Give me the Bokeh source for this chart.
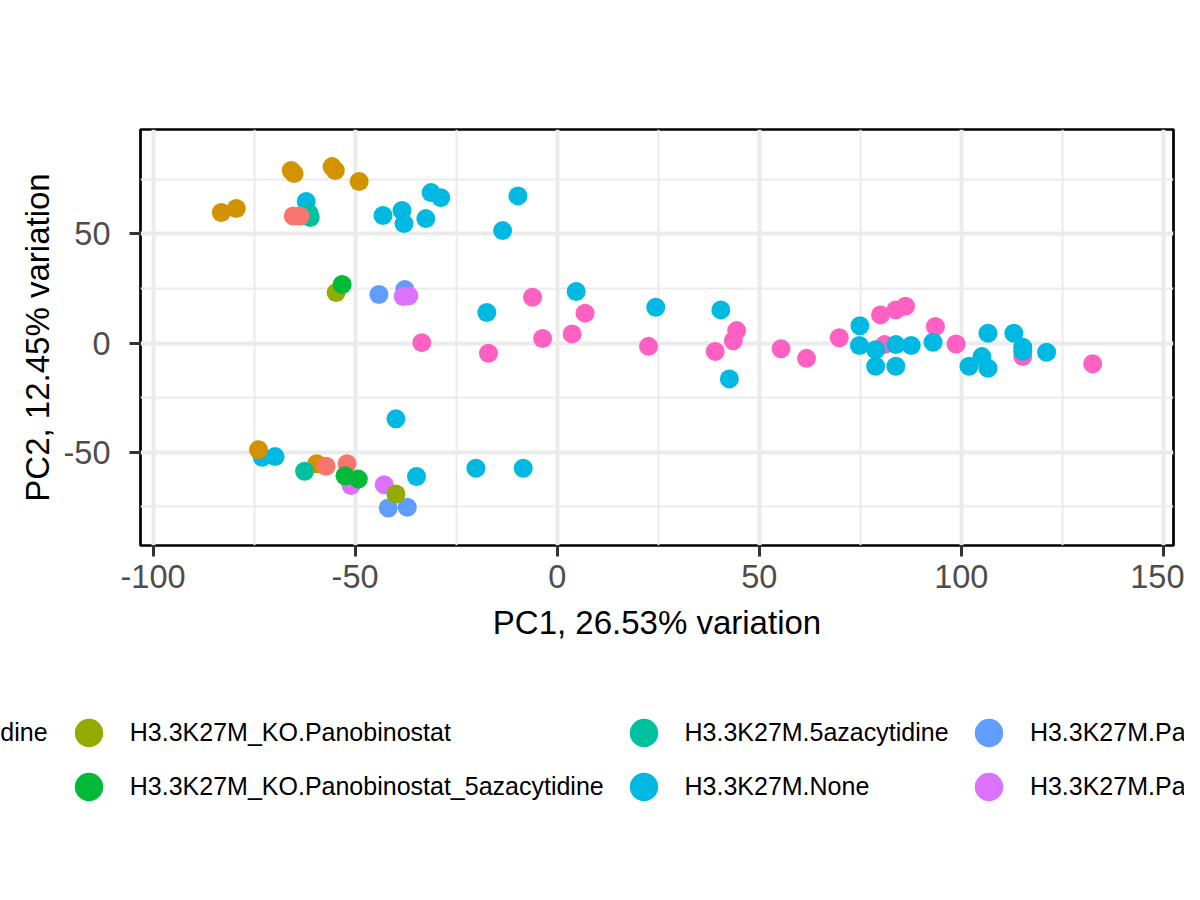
import numpy as np
from bokeh.plotting import figure
from bokeh.models import Range1d, Legend, LegendItem, FixedTicker, CustomJSTickFormatter
from bokeh.embed import file_html
from bokeh.resources import INLINE

# ---- data ----
groups = [
    "H3.3K27M_KO.5azacytidine",
    "H3.3K27M_KO.None",
    "H3.3K27M_KO.Panobinostat",
    "H3.3K27M_KO.Panobinostat_5azacytidine",
    "H3.3K27M.5azacytidine",
    "H3.3K27M.None",
    "H3.3K27M.Panobinostat",
    "H3.3K27M.Panobinostat_5azacytidine",
    "H3.3WT.None",
]
colors = ["#F8766D", "#D39200", "#93AA00", "#00BA38", "#00C19F",
          "#00B9E3", "#619CFF", "#DB72FB", "#FF61C3"]

ko_aza_x = [-65.3, -63.6, -57.2, -52.0]
ko_aza_y = [58.2, 58.2, -56.4, -55.3]

ko_none_x = [-83.1, -79.4, -65.8, -65.1, -55.7, -54.9, -49.0, -73.9, -59.5]
ko_none_y = [59.8, 61.6, 79.0, 77.6, 80.8, 79.0, 74.0, -48.8, -55.3]

ko_pano_x = [-54.7, -39.9]
ko_pano_y = [23.1, -69.1]

ko_pano_aza_x = [-53.2, -52.5, -49.2]
ko_pano_aza_y = [26.8, -60.8, -62.3]

aza_x = [-61.4, -61.1, -62.5]
aza_y = [59.3, 57.5, -58.7]

none_x = [-62.1, -43.1, -38.4, -37.9, -32.5, -31.2, -28.8, -9.7, -13.5,
          -17.4, 4.7, 24.4, 40.5, 42.6,
          74.9, 74.8, 78.8, 78.8, 83.8, 83.8, 87.6, 93.0, 101.9, 105.1,
          106.6, 106.6, 113.0, 115.2, 115.2, 121.1,
          -73.0, -69.8, -39.9, -34.8, -20.1, -8.4]
none_y = [64.8, 58.4, 60.7, 54.7, 57.0, 68.9, 66.6, 67.4, 51.5,
          14.0, 23.6, 16.4, 15.2, -16.4,
          7.9, -1.1, -3.1, -10.6, -0.7, -10.6, -1.1, 0.4, -10.6, -6.2,
          -11.5, 4.5, 4.5, -1.9, -3.8, -4.2,
          -52.3, -52.0, -34.7, -61.1, -57.3, -57.3]

pano_x = [-44.1, -37.7, -41.8, -37.1]
pano_y = [22.2, 24.5, -75.5, -75.2]

pano_aza_x = [-38.1, -36.7, -51.0, -42.8]
pano_aza_y = [21.3, 21.7, -65.2, -64.9]

wt_x = [-33.5, -17.0, -6.1, -3.6, 6.9, 3.7, 22.6, 44.4, 43.6, 39.1, 55.4,
        61.7, 69.8, 80.0, 83.8, 86.2, 81.0, 93.6, 98.7, 115.2, 132.5]
wt_y = [0.2, -4.7, 21.0, 2.1, 13.7, 4.2, -1.5, 5.7, 1.1, -3.9, -2.6,
        -7.0, 2.4, 12.9, 15.2, 16.9, -0.7, 7.6, -0.4, -6.2, -9.5]

xs = [ko_aza_x, ko_none_x, ko_pano_x, ko_pano_aza_x, aza_x, none_x, pano_x, pano_aza_x, wt_x]
ys = [ko_aza_y, ko_none_y, ko_pano_y, ko_pano_aza_y, aza_y, none_y, pano_y, pano_aza_y, wt_y]

x_ticks = [-100, -50, 0, 50, 100, 150]
x_minor = [-125, -75, -25, 25, 75, 125, 175]
y_ticks = [-50, 0, 50]
y_minor = [-75, -25, 25, 75]

# ---- layout / style ----
FONT = "Liberation Sans"
W = 1184
H_MAIN, H_LEG = 690, 194
ML, MR, MT, MB = 140, 11, 129, 145

p = figure(width=W, height=H_MAIN, output_backend="svg", toolbar_location=None,
           x_range=Range1d(-103.1, 152.5), y_range=Range1d(-92.7, 97.8),
           min_border_left=ML, min_border_right=MR, min_border_top=MT,
           min_border_bottom=MB, background_fill_color="white",
           border_fill_color="white")

p.outline_line_color = "black"
p.outline_line_width = 2.7

plain = CustomJSTickFormatter(code="return tick.toString();")
for ax in (p.xaxis, p.yaxis):
    ax.formatter = plain
    ax.axis_line_color = None
    ax.major_tick_out = 11
    ax.major_tick_in = 0
    ax.major_tick_line_width = 3
    ax.major_tick_line_color = "#333333"
    ax.minor_tick_out = 0
    ax.minor_tick_in = 0
    ax.major_label_text_font = FONT
    ax.major_label_text_font_size = "32.5px"
    ax.major_label_text_color = "#4D4D4D"
    ax.axis_label_text_font = FONT
    ax.axis_label_text_font_size = "33px"
    ax.axis_label_text_font_style = "normal"
    ax.axis_label_text_color = "black"

p.xaxis.ticker = FixedTicker(ticks=x_ticks, minor_ticks=x_minor)
p.yaxis.ticker = FixedTicker(ticks=y_ticks, minor_ticks=y_minor)
p.xaxis.major_label_standoff = 8
p.yaxis.major_label_standoff = 19
p.xaxis.axis_label_standoff = 13
p.yaxis.axis_label_standoff = 5
p.xaxis.axis_label = "PC1, 26.53% variation"
p.yaxis.axis_label = "PC2, 12.45% variation"

for g in (p.xgrid, p.ygrid):
    g.grid_line_color = "#EBEBEB"
    g.grid_line_width = 4
    g.minor_grid_line_color = "#EBEBEB"
    g.minor_grid_line_width = 2

# draw order (as layered in the reference)
draw_order = [8, 5, 6, 7, 1, 4, 0, 2, 3]
for i in draw_order:
    p.scatter(xs[i], ys[i], size=19, marker="circle",
              fill_color=colors[i], line_color=None)

# ---- legend strip below: 2 rows, filled column by column, wider than the page ----
lg = figure(width=W, height=H_LEG, output_backend="svg", toolbar_location=None,
            x_axis_type=None, y_axis_type=None,
            x_range=Range1d(0, 1), y_range=Range1d(0, 1),
            min_border_left=0, min_border_right=0, min_border_top=0,
            min_border_bottom=0, background_fill_color="white",
            border_fill_color="white", outline_line_color=None)
lg.xgrid.visible = False
lg.ygrid.visible = False

GLYPH = 71
col_key_centers = [-308, 88.3, 643, 988.4, 1495]   # px in strip
row_centers = [42.5, 96]                            # px from strip top
for i, name in enumerate(groups):
    # legend-only key (a single undrawn NaN point carrying the group colour)
    key = lg.scatter(x=[np.nan], y=[np.nan], size=19, marker="circle",
                     fill_color=colors[i], line_color=None)
    c, r = divmod(i, 2)
    vx = col_key_centers[c] - GLYPH / 2
    vy = H_LEG - row_centers[r] - GLYPH / 2
    leg = Legend(items=[LegendItem(label=name, renderers=[key])],
                 location=(vx, vy), orientation="vertical",
                 glyph_width=GLYPH, glyph_height=GLYPH, label_standoff=6,
                 padding=0, margin=0, spacing=0,
                 border_line_color=None, background_fill_alpha=0,
                 label_text_font=FONT, label_text_font_size="25px",
                 label_text_color="black")
    lg.add_layout(leg, "center")

# two separate roots so the strip's frame is not aligned with the plot's frame
open("out.html", "w").write(file_html([p, lg], INLINE))
